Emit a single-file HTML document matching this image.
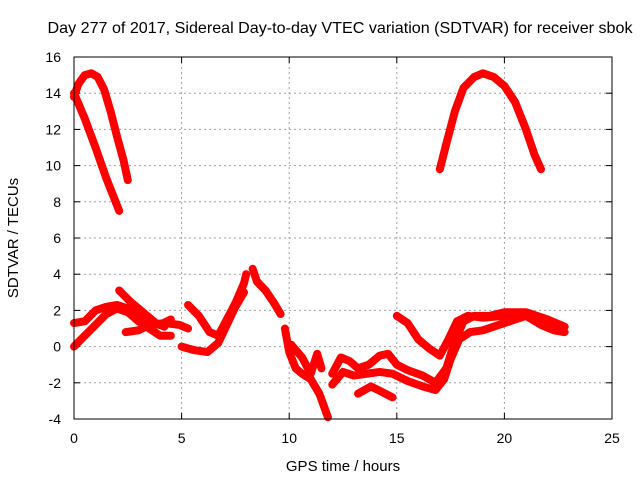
<!DOCTYPE html>
<html><head><meta charset="utf-8"><style>
body{margin:0;background:#fff}
svg{display:block;font-family:"Liberation Sans",sans-serif;font-size:14px}
</style></head><body>
<svg id="chart" width="640" height="480">
<text x="340" y="33" text-anchor="middle" style="font-size:16px" textLength="585" lengthAdjust="spacingAndGlyphs">Day 277 of 2017, Sidereal Day-to-day VTEC variation (SDTVAR) for receiver sbok</text>
<text x="343" y="471" text-anchor="middle" style="font-size:15px">GPS time / hours</text>
<text transform="translate(18,238) rotate(-90)" text-anchor="middle" style="font-size:15px">SDTVAR / TECUs</text>
<g id="grid"></g><g id="series"></g>
<rect x="74" y="57" width="538" height="362" fill="none" stroke="#000"/>
</svg>
<script>
const xTicks=[0,5,10,15,20,25];
const yTicks=[-4,-2,0,2,4,6,8,10,12,14,16];
const track1=[[0,13.8],[0.2,14.5],[0.5,15.0],[0.8,15.1],[1.1,14.9],[1.4,14.2],[1.7,13.0],[2.0,11.6],[2.3,10.3],[2.5,9.2]];
const track2=[[0,14.0],[0.5,12.6],[1.0,11.0],[1.5,9.3],[2.1,7.5]];
const track3=[[17,9.8],[17.3,11.2],[17.7,13.0],[18.1,14.3],[18.6,14.9],[19.0,15.1],[19.5,14.9],[20.0,14.4],[20.5,13.5],[21.0,12.0],[21.4,10.6],[21.7,9.8]];
const track4=[[0,1.3],[0.5,1.4],[1,2.0],[1.5,2.2],[2,2.3],[2.5,2.1],[3,1.7],[3.5,1.3],[4,1.2],[4.5,1.5]];
const track5=[[0,0],[0.5,0.6],[1,1.2],[1.5,1.8],[2,2.1],[2.5,1.9],[3,1.4],[3.5,1.0],[4,0.6],[4.5,0.6]];
const track6=[[2.1,3.1],[2.6,2.5],[3.2,1.9],[3.8,1.3],[4.2,1.1]];
const track7=[[2.4,0.8],[3,0.9],[3.5,1.2],[4.2,1.3],[4.9,1.2],[5.3,1.0]];
const track8=[[5.3,2.3],[5.8,1.7],[6.3,0.8],[6.7,0.6],[7.1,1.5],[7.5,2.4],[7.9,3.5],[8.0,4.0]];
const track9=[[5.0,0.0],[5.6,-0.2],[6.2,-0.3],[6.7,0.2],[7.1,1.2],[7.5,2.2],[7.9,3.0]];
const track10=[[8.3,4.3],[8.5,3.6],[8.9,3.1],[9.3,2.4],[9.6,1.8]];
const track11=[[9.8,1.0],[10.0,-0.3],[10.3,-1.2],[10.6,-1.5],[11.0,-1.8],[11.4,-2.6],[11.8,-3.9]];
const track12=[[10.1,0.1],[10.6,-0.6],[11.0,-1.5],[11.3,-0.4],[11.5,-1.2]];
const track13=[[12.0,-1.5],[12.4,-0.6],[12.8,-0.8],[13.2,-1.2],[13.7,-1.0],[14.2,-0.5],[14.6,-0.4],[15.0,-1.0],[15.5,-1.3],[16.2,-1.6],[16.8,-2.0],[17.3,-1.2],[17.7,0.3],[18.1,1.4],[18.6,1.7],[19.3,1.7],[20.0,1.9],[21.0,1.9],[22.0,1.5],[22.8,1.1]];
const track14=[[12.0,-2.1],[12.5,-1.4],[13.0,-1.6],[13.6,-1.5],[14.2,-1.4],[14.8,-1.5],[15.5,-1.9],[16.2,-2.2],[16.8,-2.4],[17.2,-1.8],[17.5,-0.7],[17.9,0.4],[18.4,0.8],[19.0,0.9],[20.0,1.3],[21.0,1.7],[21.7,1.2],[22.3,0.9],[22.8,0.8]];
const track15=[[15.0,1.7],[15.5,1.3],[16.0,0.4],[16.5,-0.1],[17.0,-0.5],[17.4,0.4],[17.8,1.4],[18.3,1.7],[19.0,1.6],[20.0,1.7],[21.0,1.8],[21.8,1.5],[22.5,1.2]];
const track16=[[13.2,-2.6],[13.8,-2.2],[14.3,-2.5],[14.8,-2.8]];
const tracks=[track1,track2,track3,track4,track5,track6,track7,track8,track9,track10,track11,track12,track13,track14,track15,track16];
const X=t=>74+t*21.52, Y=v=>57+(16-v)*18.1;
const ns="http://www.w3.org/2000/svg", g=document.getElementById('grid'), s=document.getElementById('series');
function el(tag,a,p){const e=document.createElementNS(ns,tag);for(const k in a)e.setAttribute(k,a[k]);p.appendChild(e);return e;}
xTicks.forEach(t=>{
 if(t>0&&t<25){const l=el('line',{x1:X(t),x2:X(t),y1:57,y2:419,stroke:'#a0a0a0','stroke-dasharray':'2,3'},g);
 
 }
 el('line',{x1:X(t),x2:X(t),y1:419,y2:413,stroke:'#000'},g);el('line',{x1:X(t),x2:X(t),y1:57,y2:63,stroke:'#000'},g);
 const tx=el('text',{x:X(t),y:443,'text-anchor':'middle'},g);tx.textContent=t;
 
 
});
yTicks.forEach(v=>{
 if(v>-4&&v<16){const l=el('line',{x1:74,x2:612,y1:Y(v),y2:Y(v),stroke:'#a0a0a0','stroke-dasharray':'2,3'},g);
 
 }
 el('line',{x1:74,x2:80,y1:Y(v),y2:Y(v),stroke:'#000'},g);el('line',{x1:606,x2:612,y1:Y(v),y2:Y(v),stroke:'#000'},g);
 const tx=el('text',{x:61,y:Y(v)+5,'text-anchor':'end'},g);tx.textContent=v;
 
 
});
tracks.forEach(tr=>{
 const p=el('polyline',{points:tr.map(d=>X(d[0])+','+Y(d[1])).join(' '),fill:'none',stroke:'#ff0000','stroke-width':8,'stroke-linejoin':'round','stroke-linecap':'round'},s);
 
 
});
</script>
</body></html>
